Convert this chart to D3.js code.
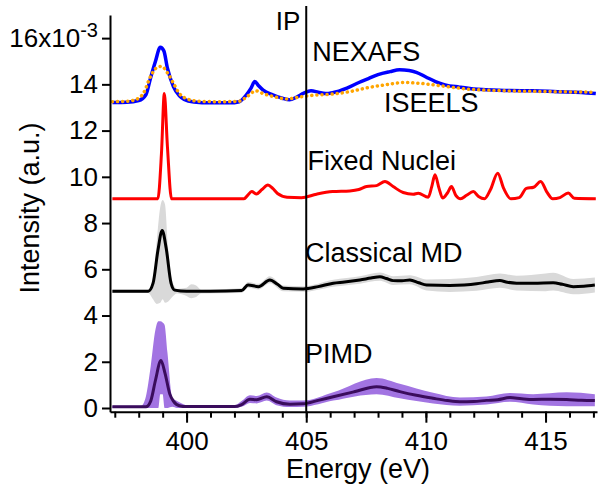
<!DOCTYPE html>
<html><head><meta charset="utf-8">
<script src="https://cdn.jsdelivr.net/npm/d3@7"></script>
<style>
html,body{margin:0;padding:0;background:#fff;}
svg{display:block;font-family:"Liberation Sans",Arial,sans-serif;}
</style></head>
<body><svg id="c" width="600" height="489"></svg>
<script>
// ---------- DATA ----------
const nexafsE = [396.9,397.5,398.0,398.3,398.5,398.7,398.9,399.05,399.2,399.45,399.7,399.9,400.3,401.0,401.8,402.2,402.5,402.7,402.85,403.0,403.2,403.6,404.0,404.3,404.6,404.9,405.2,405.5,405.8,406.1,406.7,407.2,407.6,408.0,408.5,408.9,409.3,409.6,410.0,410.4,410.8,411.4,412.0,412.5,413.5,414.5,415.5,416.5,417.1];
const nexafsV = [13.22,13.23,13.3,13.55,14.3,15.0,15.6,15.45,14.7,13.9,13.5,13.35,13.24,13.2,13.2,13.25,13.55,13.85,14.12,13.95,13.75,13.55,13.4,13.33,13.45,13.62,13.72,13.66,13.6,13.64,13.84,14.08,14.25,14.42,14.55,14.63,14.6,14.52,14.32,14.12,13.98,13.88,13.8,13.77,13.73,13.72,13.68,13.65,13.6];

const iseelsE = [396.9,397.5,397.9,398.2,398.5,398.75,398.95,399.2,399.45,399.7,400.0,400.5,401.5,402.2,402.5,402.9,403.2,403.6,404.2,404.7,405.2,406.1,406.8,407.5,408.3,409.1,409.8,410.6,411.7,413.4,415.0,417.1];
const iseelsV = [13.25,13.27,13.35,13.62,14.35,14.72,14.78,14.5,14.05,13.6,13.38,13.27,13.25,13.27,13.45,13.72,13.6,13.48,13.37,13.45,13.52,13.58,13.68,13.84,13.98,14.08,14.04,13.94,13.8,13.72,13.69,13.66];

const fixedE = [396.9,398.8,398.95,399.07,399.2,399.37,402.4,402.55,402.72,402.92,403.15,403.4,403.6,403.8,404.2,404.8,405.43,406.1,406.82,407.2,407.52,407.94,408.29,408.63,409.05,409.47,409.68,410.1,410.25,410.38,410.55,410.7,410.9,411.07,411.25,411.45,411.7,411.98,412.2,412.45,412.7,413.0,413.25,413.55,413.9,414.2,414.5,414.8,415.05,415.3,415.6,415.95,416.2,417.1];
const fixedV = [9.05,9.05,11.0,13.6,11.3,9.05,9.05,9.2,9.36,9.26,9.45,9.65,9.5,9.28,9.12,9.1,9.25,9.36,9.39,9.45,9.58,9.62,9.8,9.58,9.32,9.25,9.29,9.12,9.6,10.09,9.5,9.08,9.3,9.58,9.2,9.05,9.2,9.36,9.15,9.05,9.45,10.16,9.5,9.05,9.1,9.5,9.55,9.8,9.35,9.05,9.1,9.3,9.07,9.05];

const mdE = [396.9,398.4,398.6,398.8,398.98,399.15,399.35,399.5,400.0,401.0,402.3,402.57,403.0,403.48,403.8,404.04,404.87,405.5,406.13,406.6,407.24,407.7,408.08,408.35,408.63,409.0,409.33,409.7,410.03,411.0,411.6,412.12,412.6,413.09,413.4,413.79,414.5,415.32,415.7,416.16,416.6,417.06];
const mdV = [5.05,5.05,5.4,6.8,7.68,6.9,5.4,5.1,5.05,5.05,5.08,5.32,5.25,5.54,5.35,5.18,5.15,5.25,5.4,5.45,5.54,5.62,5.68,5.6,5.51,5.5,5.54,5.42,5.32,5.3,5.32,5.37,5.45,5.51,5.44,5.4,5.4,5.42,5.35,5.25,5.27,5.32];
const mdBandE = [396.9,398.4,398.6,398.75,398.9,399.0,399.1,399.22,399.4,399.6,400.0,400.2,400.4,400.6,402.3,402.57,403.0,403.48,404.04,404.87,406.13,407.24,408.08,408.63,409.33,410.03,411.0,412.12,413.09,413.79,415.0,415.32,416.16,417.06];
const mdBandLo = [4.98,4.98,4.7,4.5,4.55,4.7,4.55,4.6,4.8,4.95,4.85,4.75,4.8,4.95,4.98,5.2,5.13,5.4,5.05,5.03,5.25,5.38,5.5,5.32,5.35,5.08,5.02,5.07,5.2,5.08,5.05,5.08,4.92,5.0];
const mdBandHi = [5.12,5.12,5.5,7.2,8.7,9.0,8.8,7.0,5.5,5.15,5.2,5.35,5.3,5.12,5.18,5.45,5.37,5.7,5.3,5.27,5.55,5.7,5.86,5.7,5.74,5.56,5.58,5.67,5.82,5.72,5.82,5.85,5.58,5.64];

const pimdE = [396.9,398.3,398.5,398.7,398.93,399.1,399.3,399.45,399.7,400.0,402.0,402.3,402.65,402.93,403.35,403.76,404.32,404.87,405.5,406.13,407.0,407.94,408.4,408.91,409.6,410.3,410.9,411.42,412.0,412.53,413.0,413.51,414.0,414.48,415.2,415.88,416.5,417.06];
const pimdV = [0.05,0.05,0.3,1.2,2.05,1.5,0.6,0.3,0.1,0.06,0.06,0.15,0.38,0.36,0.49,0.27,0.16,0.18,0.33,0.49,0.7,0.92,0.85,0.71,0.55,0.42,0.32,0.27,0.28,0.33,0.36,0.45,0.4,0.37,0.38,0.37,0.33,0.32];
const pimdBandE = [396.9,398.1,398.3,398.5,398.7,398.82,398.9,399.0,399.08,399.2,399.4,399.6,399.8,400.1,402.0,402.3,402.65,402.93,403.35,403.76,404.32,404.87,406.13,407.94,408.91,410.3,411.42,412.53,413.51,414.48,415.88,417.06];
const pimdBandLo = [0.0,0.0,0.0,0.0,0.0,0.0,0.6,0.6,0.0,0.0,0.05,0.0,0.0,0.0,0.0,0.05,0.22,0.2,0.32,0.12,0.04,0.05,0.32,0.6,0.42,0.2,0.1,0.15,0.27,0.15,0.08,0.08];
const pimdBandHi = [0.1,0.1,0.5,1.8,3.4,3.75,3.75,3.7,3.6,2.4,0.45,0.3,0.2,0.1,0.12,0.3,0.55,0.52,0.67,0.45,0.32,0.32,0.68,1.3,1.05,0.66,0.45,0.5,0.65,0.6,0.68,0.6];

const xMajorTicks = [400,405,410,415];
const xMinorTicks = d3.range(397,418,1);
const yTicks = [0,2,4,6,8,10,12,14,16];
const ipEnergy = 405;
const labels = [
  {text:"NEXAFS", x:405.25, y:15.0},
  {text:"ISEELS", x:408.25, y:12.8},
  {text:"Fixed Nuclei", x:405.05, y:10.3},
  {text:"Classical MD", x:404.95, y:6.33},
  {text:"PIMD", x:404.95, y:1.93}
];

// ---------- CHART ----------
const svg = d3.select("#c");
const x = d3.scaleLinear().domain([396.8, 417.15]).range([110, 597]);
const y = d3.scaleLinear().domain([-0.16, 17]).range([411.7, 15]);

const curve = d3.curveMonotoneX;
const line = d3.line().curve(curve).x(d=>x(d[0])).y(d=>y(d[1]));
const area = d3.area().curve(curve).x(d=>x(d[0])).y0(d=>y(d[1])).y1(d=>y(d[2]));
const zip2 = (a,b)=>a.map((v,i)=>[v,b[i]]);
const zip3 = (a,b,c)=>a.map((v,i)=>[v,b[i],c[i]]);

// bands
svg.append("path").attr("d", area(zip3(pimdBandE,pimdBandLo,pimdBandHi)))
  .attr("fill","#a274e2");
svg.append("path").attr("d", area(zip3(mdBandE,mdBandLo,mdBandHi)))
  .attr("fill","#d9d9d9");

// lines
svg.append("path").attr("d", line(zip2(pimdE,pimdV)))
  .attr("fill","none").attr("stroke","#3a0c5c").attr("stroke-width",3).attr("stroke-linejoin","round");
svg.append("path").attr("d", line(zip2(mdE,mdV)))
  .attr("fill","none").attr("stroke","#000").attr("stroke-width",3).attr("stroke-linejoin","round");
svg.append("path").attr("d", line(zip2(fixedE,fixedV)))
  .attr("fill","none").attr("stroke","#ff0000").attr("stroke-width",3).attr("stroke-linejoin","round");
svg.append("path").attr("d", line(zip2(nexafsE,nexafsV)))
  .attr("fill","none").attr("stroke","#0000ff").attr("stroke-width",3.5).attr("stroke-linejoin","round");
svg.append("path").attr("d", line(zip2(iseelsE,iseelsV)))
  .attr("fill","none").attr("stroke","#ffa500").attr("stroke-width",3.5)
  .attr("stroke-dasharray","0.1,5").attr("stroke-linecap","round");

// IP line
svg.append("line").attr("x1",x(ipEnergy)).attr("x2",x(ipEnergy))
  .attr("y1",6).attr("y2",y(-0.16)).attr("stroke","#000").attr("stroke-width",2);
svg.append("text").attr("x",x(ipEnergy)-6).attr("y",30).attr("text-anchor","end")
  .attr("font-size",26).text("IP");

// axes
const gx = svg.append("g").attr("transform",`translate(0,${y(-0.16)})`);
gx.call(d3.axisBottom(x).tickValues(xMinorTicks).tickSize(6).tickSizeOuter(0).tickFormat(""));
gx.call(g=>g.selectAll(".tick line").attr("stroke-width",2));
gx.select(".domain").remove();
const gx2 = svg.append("g").attr("transform",`translate(0,${y(-0.16)})`);
gx2.call(d3.axisBottom(x).tickValues(xMajorTicks).tickSize(11).tickPadding(9).tickSizeOuter(0).tickFormat(d3.format("d")));
gx2.select(".domain").attr("stroke-width",2);
gx2.selectAll(".tick line").attr("stroke-width",2);
gx2.selectAll(".tick text").attr("font-size",26).attr("font-family","Liberation Sans, Arial, sans-serif").attr("fill","#000");

const gy = svg.append("g").attr("transform",`translate(110,0)`);
gy.call(d3.axisLeft(y).tickValues(yTicks).tickSize(8).tickPadding(4).tickSizeOuter(0)
  .tickFormat(d=> d===16 ? "" : d3.format("d")(d)));
gy.select(".domain").attr("stroke-width",2);
gy.selectAll(".tick line").attr("stroke-width",2);
gy.selectAll(".tick text").attr("font-size",26).attr("font-family","Liberation Sans, Arial, sans-serif").attr("fill","#000");
// 16x10^-3 label
const t16 = gy.selectAll(".tick").filter(d=>d===16).select("text");
t16.append("tspan").text("16x10");
t16.append("tspan").attr("dy",-10).attr("font-size",20).text("-3");

// axis titles
svg.append("text").attr("x",358).attr("y",478).attr("text-anchor","middle")
  .attr("font-size",27).text("Energy (eV)");
svg.append("text").attr("transform","translate(39,208) rotate(-90)").attr("text-anchor","middle")
  .attr("font-size",27).text("Intensity (a.u.)");

// series labels
svg.selectAll("text.lab").data(labels).enter().append("text").attr("class","lab")
  .attr("x",d=>x(d.x)).attr("y",d=>y(d.y)).attr("font-size",27).text(d=>d.text);
</script></body></html>
